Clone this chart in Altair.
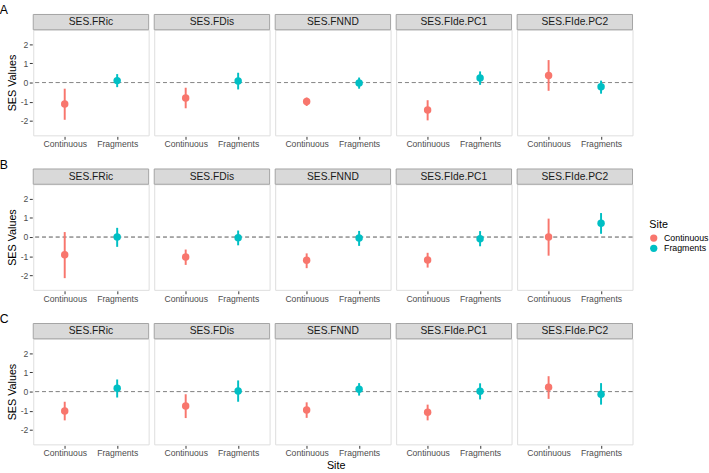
import altair as alt
import pandas as pd

metrics = ["SES.FRic", "SES.FDis", "SES.FNND", "SES.FIde.PC1", "SES.FIde.PC2"]
sites = ["Continuous", "Fragments"]
panels = ["A", "B", "C"]

# Panel A
A_cont_mean = [-1.12, -0.80, -0.99, -1.43, 0.37]
A_cont_lo = [-1.94, -1.34, -1.22, -1.97, -0.43]
A_cont_hi = [-0.32, -0.27, -0.78, -0.92, 1.17]
A_frag_mean = [0.10, 0.085, -0.02, 0.24, -0.22]
A_frag_lo = [-0.24, -0.36, -0.32, -0.12, -0.58]
A_frag_hi = [0.44, 0.51, 0.26, 0.58, 0.10]
# Panel B
B_cont_mean = [-0.92, -1.04, -1.21, -1.20, 0.0]
B_cont_lo = [-2.14, -1.45, -1.62, -1.59, -0.97]
B_cont_hi = [0.26, -0.65, -0.85, -0.82, 0.96]
B_frag_mean = [0.0, -0.03, -0.05, -0.09, 0.72]
B_frag_lo = [-0.51, -0.43, -0.46, -0.48, 0.17]
B_frag_hi = [0.48, 0.34, 0.32, 0.31, 1.25]
# Panel C
C_cont_mean = [-1.01, -0.75, -0.96, -1.08, 0.22]
C_cont_lo = [-1.50, -1.38, -1.37, -1.50, -0.38]
C_cont_hi = [-0.53, -0.14, -0.56, -0.68, 0.80]
C_frag_mean = [0.17, 0.03, 0.12, 0.02, -0.14]
C_frag_lo = [-0.31, -0.53, -0.21, -0.41, -0.68]
C_frag_hi = [0.63, 0.58, 0.44, 0.43, 0.44]

series = {
    "A": (A_cont_mean, A_cont_lo, A_cont_hi, A_frag_mean, A_frag_lo, A_frag_hi),
    "B": (B_cont_mean, B_cont_lo, B_cont_hi, B_frag_mean, B_frag_lo, B_frag_hi),
    "C": (C_cont_mean, C_cont_lo, C_cont_hi, C_frag_mean, C_frag_lo, C_frag_hi),
}

FONT = "Liberation Sans"
W, H = 118, 108
STRIP = 15.6
BORDER = "#A3A3A3"
colors = ["#F8766D", "#00BFC4"]


def make_df(p):
    cm, cl, ch, fm, fl, fh = series[p]
    rows = []
    for i, m in enumerate(metrics):
        rows.append(dict(panel=p, metric=m, site="Continuous", mean=cm[i], lo=cl[i], hi=ch[i]))
        rows.append(dict(panel=p, metric=m, site="Fragments", mean=fm[i], lo=fl[i], hi=fh[i]))
    return pd.DataFrame(rows)


def make_row(p):
    df = make_df(p)
    xenc = alt.X(
        "site:N",
        scale=alt.Scale(type="point", padding=0.6, domain=sites),
        axis=alt.Axis(
            title=None,
            labelAngle=0,
            labelFont=FONT, labelFontSize=8.8, labelColor="#4D4D4D",
            tickColor="#333333", tickSize=3, labelPadding=0.5,
            domain=False, grid=False,
        ),
    )
    yscale = alt.Scale(domain=[-2.75, 2.75], nice=False, zero=False)
    yaxis = alt.Axis(
        title="SES Values", values=[-2, -1, 0, 1, 2], labelExpr="datum.value",
        labelFont=FONT, labelFontSize=8.8, labelColor="#4D4D4D",
        tickColor="#333333", tickSize=3, labelPadding=1.5,
        domain=False, grid=False,
        titleFont=FONT, titleFontSize=11, titleFontWeight="normal",
        titleColor="#000000", titlePadding=3,
    )
    color = alt.Color(
        "site:N", scale=alt.Scale(domain=sites, range=colors),
        legend=alt.Legend(
            title="Site", orient="none", legendX=630, legendY=194,
            titleFont=FONT, titleFontSize=11, titleFontWeight="normal", titleColor="#000000",
            titlePadding=3.5,
            labelFont=FONT, labelFontSize=9, labelColor="#000000", labelOffset=6,
            symbolType="circle", symbolSize=55, symbolStrokeWidth=0, rowPadding=0.5,
        ),
    )
    base = alt.Chart()
    zero = base.mark_rule(color="#8C8C8C", strokeDash=[4, 3], strokeWidth=1).encode(
        y=alt.datum(0, scale=yscale, axis=yaxis)
    )
    err = base.mark_rule(strokeWidth=2).encode(
        x=xenc, y=alt.Y("lo:Q", scale=yscale, axis=yaxis), y2="hi:Q", color=color
    )
    pts = base.mark_circle(size=58, opacity=1).encode(
        x=xenc, y=alt.Y("mean:Q", scale=yscale, axis=yaxis), color=color
    )
    strip_rect = base.mark_rect(fill="#D9D9D9", stroke=BORDER, strokeWidth=1).encode(
        x=alt.value(0), x2=alt.value(W), y=alt.value(-STRIP), y2=alt.value(0)
    ).transform_filter(alt.datum.site == "Continuous")
    strip_text = base.mark_text(font=FONT, fontSize=10.5, color="#1A1A1A", baseline="middle").encode(
        x=alt.value(W / 2), y=alt.value(-STRIP / 2), text="metric:N"
    ).transform_filter(alt.datum.site == "Continuous")
    layer = alt.layer(zero, err, pts, strip_rect, strip_text).properties(width=W, height=H)
    return layer.facet(
        column=alt.Column("metric:N", sort=metrics, header=alt.Header(labels=False, title=None)),
        data=df,
        spacing=3.7,
    ).properties(
        title=alt.TitleParams(
            text=p, anchor="start", frame="bounds", font=FONT, fontSize=12.5,
            fontWeight="normal", color="#000000", offset=-3, dx=-7,
        )
    )


row_c = alt.vconcat(make_row("C")).properties(
    title=alt.TitleParams(
        text="Site", orient="bottom", anchor="middle", frame="bounds", font=FONT,
        fontSize=11, fontWeight="normal", color="#000000", offset=3, dx=20,
    )
)

chart = alt.vconcat(
    make_row("A"), make_row("B"), row_c, spacing=9
).properties(
    padding={"left": -1, "top": -2, "right": 0, "bottom": 2}
).configure_view(stroke=BORDER, strokeWidth=1).configure(background="white")

chart.save("out.html", embed_options={"renderer": "svg", "actions": False})
